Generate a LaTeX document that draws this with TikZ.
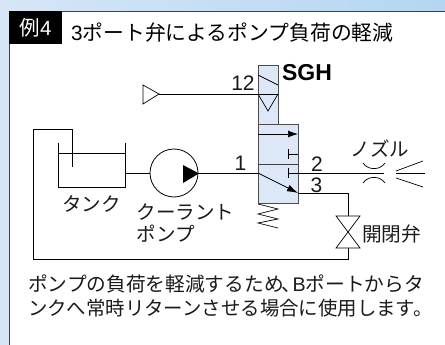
\documentclass[tikz,border=0pt]{standalone}
\usepackage{fontspec}
\setmainfont{Liberation Sans}
\newfontfamily\cjk{Noto Sans CJK JP}
\usetikzlibrary{arrows.meta,calc}
\definecolor{valveblue}{HTML}{DCE8F8}
\definecolor{inkc}{HTML}{1A1A1A}
\definecolor{bgl}{HTML}{D6E6F6}
\definecolor{bgr}{HTML}{B4D6F2}
\tikzset{
  lbl/.style={inner sep=0pt,text=inkc,font=\fontsize{#1}{#1}\selectfont\cjk},
  lbl/.default=19.5,
  num/.style={inner sep=0pt,text=inkc,font=\fontsize{21}{21}\selectfont},
  pipe/.style={line width=0.8pt,draw=black},
  sym/.style={line width=0.7pt,draw=black},
  vbox/.style={line width=0.9pt,draw=black!70,fill=valveblue},
}
\begin{document}
\begin{tikzpicture}[x=1pt,y=-1pt]
\useasboundingbox (0,0) rectangle (445,345);
\shade[left color=bgl,right color=bgr] (0,0) rectangle (445,345);
\fill[bgl] (0,11) rectangle (9,345);
\fill[white] (9,11) rectangle (445,345);
\draw[line width=0.9pt,draw=black!75] (9,345) -- (9,11) -- (445,11);
\node[fill=black,minimum width=53pt,minimum height=33pt,inner sep=0pt,anchor=north west] (tag) at (9,11) {};
\node[inner sep=0pt,text=white,font=\fontsize{20.5}{20.5}\selectfont] (tagtext) at (35.5,28) {{\cjk 例}4};
\node[inner sep=0pt,anchor=west,text=black,font=\fontsize{20.8}{20.8}\selectfont] (title) at (71,33) {3{\cjk ポート弁によるポンプ負荷の軽減}};
% actuator and valve
\node[vbox,anchor=north west,minimum width=20pt,minimum height=59pt,inner sep=0pt] (act) at (258,65) {};
\node[vbox,anchor=north west,minimum width=40pt,minimum height=79pt,inner sep=0pt] (body) at (258,124) {};
\draw[sym] (258,75) -- (278,85);
\coordinate (ctlL) at (258,94);
\coordinate (ctlR) at (278,94);
\coordinate (ctlT) at (268,111);
\draw[sym] (ctlL) -- (ctlT) -- (ctlR);
\coordinate (pilotTip) at (159,94);
\draw[sym] (pilotTip) -- (ctlR);
\draw[sym,fill=white] (143,85) -- (pilotTip) -- (143,104) -- cycle;
\draw[line width=0.9pt,draw=black!75] (258,164) -- (298,164);
\draw[sym,-{Latex[length=10pt,width=7pt]}] (258,134) -- (298,134);
\draw[sym] (288,149) -- (288,159) (288,154) -- (298,154);
\draw[sym] (288,168) -- (288,178);
% spring
\draw[sym] (258,204) -- (278,209) -- (258,214) -- (278,219) -- (258,223) -- (278,228);
% tank
\coordinate (tankTL) at (58,143);
\coordinate (tankBL) at (58,187);
\coordinate (tankBR) at (125,187);
\coordinate (tankTR) at (125,143);
\draw[pipe] (tankTL) -- (tankBL) -- (tankBR) -- (tankTR);
\draw[sym] (58,153) -- (125,153);
% pump
\node[circle,draw=black,line width=0.8pt,minimum size=48pt,inner sep=0pt] (pump) at (174,173) {};
\fill[black] (183,165) -- (199,173.5) -- (183,183) -- cycle;
\coordinate (tankOut) at (125,173);
\coordinate (valveIn) at (258,173);
\draw[pipe] (tankOut) -- (pump.west);
\draw[pipe] (pump.east) -- (valveIn);
\coordinate (arrEnd) at (298,193);
\draw[sym,-{Latex[length=11pt,width=7pt]}] (valveIn) -- (arrEnd);
% outlet 2 to nozzle
\draw[pipe] (288,173) -- (384,173);
\coordinate (valveTop) at (348,216);
\coordinate (valveBot) at (348,248);
\draw[pipe] (arrEnd) -- (348,193) -- (valveTop);
\draw[sym] (336,216) -- (360,216) -- (336,248) -- (360,248) -- cycle;
\draw[pipe] (valveBot) -- (348,259) -- (33,259) -- (33,129) -- (72,129) -- (72,167);
% nozzle
\draw[sym] (363,163) .. controls (368,170.5) and (380,170.5) .. (385,163);
\draw[sym] (363,183) .. controls (368,175.5) and (380,175.5) .. (385,183);
\draw[sym] (396,171) -- (423,161);
\draw[sym] (396,173.5) -- (425,173.5);
\draw[sym] (396,178) -- (423,187);
% labels
\node[num] (l12) at (243,83.5) {12};
\node[inner sep=0pt,text=black,font=\fontsize{23}{23}\selectfont\bfseries] (sgh) at (307,73) {SGH};
\node[num] (l1) at (240.5,163) {1};
\node[num] (l2) at (317,164) {2};
\node[num] (l3) at (316.5,185) {3};
\node[lbl] (ltank) at (91.5,203.5) {タンク};
\node[lbl,anchor=west] (lcool) at (136.5,212.5) {クーラント};
\node[lbl,anchor=west] (lpump) at (136.5,233.5) {ポンプ};
\node[lbl] (lnoz) at (380,148.5) {ノズル};
\node[lbl=19.7,anchor=west] (lval) at (362,233.5) {開閉弁};
\node[inner sep=0pt,anchor=west,text=inkc,font=\fontsize{19.7}{19.7}\selectfont] (t1) at (28,284) {{\cjk ポンプの負荷を軽減するため\kern-0.1em、\kern-0.45em}B{\cjk ポートからタ}};
\node[inner sep=0pt,anchor=west,text=inkc,font=\fontsize{19.4}{19.4}\selectfont\cjk] (t2) at (28,308) {ンクへ常時リターンさせる場合に使用します。};
\end{tikzpicture}
\end{document}
